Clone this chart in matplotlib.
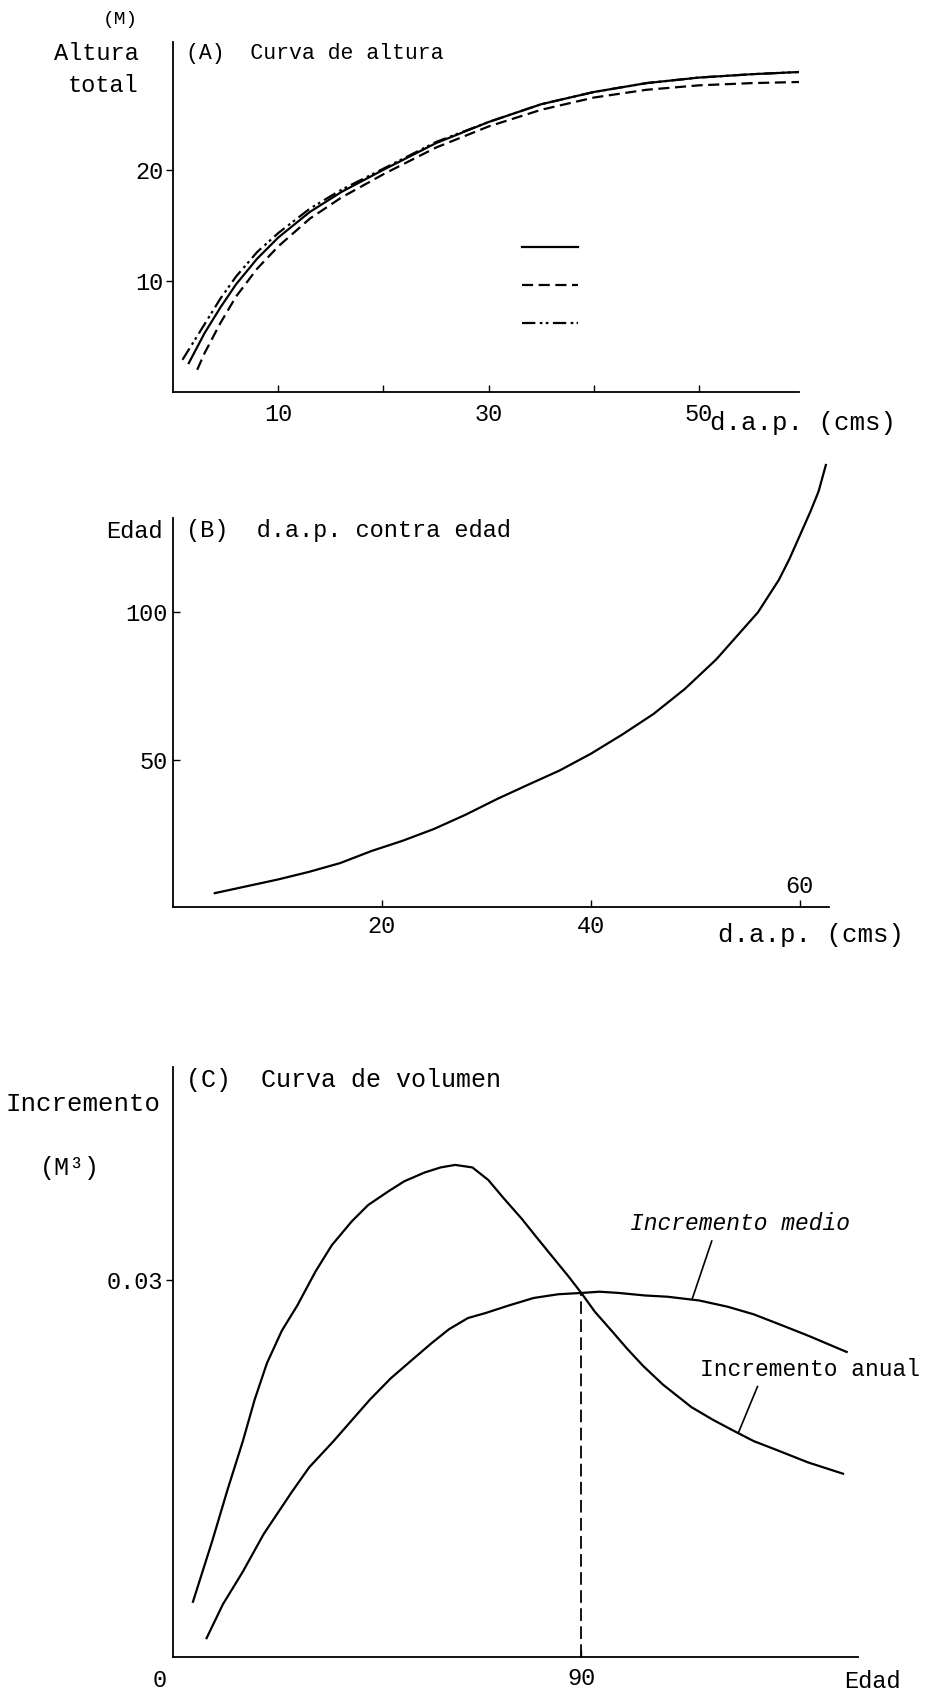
import numpy as np
import matplotlib
matplotlib.use("Agg")
import matplotlib.pyplot as plt
from matplotlib.lines import Line2D

plt.rcParams['font.family'] = ['Liberation Mono', 'DejaVu Sans Mono']
plt.rcParams['font.size'] = 17

# (A) curva de altura: d.a.p. (cms) vs altura total (M)
dap_sol = [1.5, 3, 4.5, 6, 8, 10, 13, 16, 20, 25, 30, 35, 40, 45, 50, 55, 59.5]
alt_sol = [2.6, 5.3, 7.6, 9.7, 12.0, 13.9, 16.2, 18.0, 20.0, 22.4, 24.3, 25.9, 27.0, 27.8, 28.3, 28.6, 28.8]
dap_dd = [0.9, 3, 4.5, 6, 8, 10, 13, 16, 20, 25, 30, 35, 40, 45, 50, 55, 59.5]
alt_dd = [2.9, 6.1, 8.4, 10.4, 12.6, 14.3, 16.5, 18.2, 20.1, 22.5, 24.3, 25.9, 27.0, 27.8, 28.3, 28.6, 28.8]
dap_das = [2.3, 3, 4.5, 6, 8, 10, 13, 16, 20, 25, 30, 35, 40, 45, 50, 55, 59.5]
alt_das = [2.0, 3.5, 6.2, 8.6, 11.1, 13.1, 15.6, 17.5, 19.6, 22.0, 23.9, 25.4, 26.5, 27.2, 27.6, 27.8, 27.9]

# (B) d.a.p. contra edad
dap_b = [4, 7, 10, 13, 16, 19, 22, 25, 28, 31, 34, 37, 40, 43, 46, 49, 52, 54, 56, 58, 59, 60, 61, 61.8, 62.5]
edad_b = [4.7, 7.0, 9.3, 11.9, 14.9, 19.0, 22.5, 26.5, 31.3, 36.6, 41.5, 46.3, 52, 58.5, 65.5, 74, 84,
          92, 100, 111, 118, 126, 134, 141, 150]

# (C) curva de volumen
edad_an = [4.4, 8.7, 12, 15.4, 18, 20.7, 24, 27.4, 31.4, 35, 39.4, 43, 47.5, 51, 55.5, 59, 62.2,
           66, 69.5, 73, 76.9, 80, 83.6, 87, 90, 93, 96.9, 100, 103.6, 108, 114.3, 119, 123.7,
           128, 133, 140, 147.7]
inc_anual = [0.0044, 0.0093, 0.0133, 0.0172, 0.0205, 0.0234, 0.0260, 0.0280, 0.0307, 0.0328,
             0.0347, 0.0360, 0.0371, 0.0379, 0.0386, 0.0390, 0.0392, 0.0390, 0.0380, 0.0365,
             0.0349, 0.0335, 0.0319, 0.0304, 0.0290, 0.0275, 0.0259, 0.0246, 0.0232, 0.0217,
             0.0199, 0.0189, 0.0180, 0.0172, 0.0165, 0.0155, 0.0146]
edad_me = [7.4, 11, 15.4, 20, 26.1, 30, 35.4, 40, 43.4, 48, 52.8, 57, 60.8, 65, 68.9, 74, 79.5,
           85, 90, 94, 98.3, 104, 109, 116, 122.3, 128, 134.4, 140, 148.5]
inc_medio = [0.0015, 0.0042, 0.0068, 0.0098, 0.0131, 0.0151, 0.0172, 0.0191, 0.0205, 0.0222,
             0.0237, 0.0250, 0.0261, 0.0270, 0.0274, 0.0280, 0.0286, 0.0289, 0.0290, 0.0291,
             0.0290, 0.0288, 0.0287, 0.0284, 0.0279, 0.0273, 0.0264, 0.0256, 0.0243]
cruce_edad = 90
cruce_inc = 0.029

W, H = 950, 1692
fig = plt.figure(figsize=(W / 100, H / 100), dpi=100)


def ftxt(x, y, s, ha='left', va='center', **kw):
    fig.text(x / W, 1 - y / H, s, ha=ha, va=va, **kw)


def axes_px(l, t, r, b, ydir='out', xpad=8):
    ax = fig.add_axes([l / W, 1 - b / H, (r - l) / W, (b - t) / H])
    ax.spines['top'].set_visible(False)
    ax.spines['right'].set_visible(False)
    ax.spines['left'].set_linewidth(1.3)
    ax.spines['bottom'].set_linewidth(1.3)
    ax.tick_params(axis='y', direction=ydir, length=5, width=1, pad=2, labelsize=17)
    ax.tick_params(axis='x', direction='in', length=5, width=1, pad=xpad, labelsize=17)
    return ax


lw = 1.6
dashdot = (0, (6, 2, 1.2, 1.5, 1.2, 2))
dashed = (0, (5, 2.5))

# ---- panel A
ax1 = axes_px(173, 42, 799, 392, xpad=8)
ax1.plot(dap_sol, alt_sol, 'k-', lw=lw)
ax1.plot(dap_das, alt_das, color='k', ls=dashed, lw=lw)
ax1.plot(dap_dd, alt_dd, color='k', ls=dashdot, lw=lw)
ax1.set_xlim(0, 59.5)
ax1.set_ylim(0, 31.5)
ax1.set_xticks([10, 20, 30, 40, 50])
ax1.set_xticklabels(['10', '', '30', '', '50'])
ax1.set_yticks([10, 20])
hs = [Line2D([], [], color='k', lw=lw),
      Line2D([], [], color='k', ls=dashed, lw=lw),
      Line2D([], [], color='k', ls=dashdot, lw=lw)]
ax1.legend(hs, ['', '', ''], frameon=False, handlelength=2.9, labelspacing=1.04,
           loc='upper left', bbox_to_anchor=(0.529, 0.484), handletextpad=0,
           prop={'size': 14})

ftxt(103, 19, '(M)', fontsize=14)
ftxt(139, 54, 'Altura', ha='right')
ftxt(138, 86, 'total', ha='right')
ftxt(186, 54, '(A)  Curva de altura', fontsize=15.5)
ftxt(710, 423, 'd.a.p. (cms)', fontsize=18.5)

# ---- panel B
ax2 = axes_px(173, 518, 829, 907, ydir='in', xpad=6)
ax2.plot(dap_b, edad_b, 'k-', lw=lw, clip_on=False)
ax2.set_xlim(0, 62.8)
ax2.set_ylim(0, 132)
ax2.set_xticks([20, 40, 60])
ax2.set_xticklabels(['20', '40', ''])
ax2.set_yticks([50, 100])
ax2.tick_params(axis='y', pad=4)
ax2.text(60, 3, '60', ha='center', va='bottom', fontsize=17)
ftxt(163, 531, 'Edad', ha='right')
ftxt(186, 531, '(B)  d.a.p. contra edad', fontsize=17)
ftxt(718, 935, 'd.a.p. (cms)', fontsize=18.5)

# ---- panel C
ax3 = axes_px(173, 1067, 858, 1657, xpad=7)
ax3.plot(edad_an, inc_anual, 'k-', lw=lw)
ax3.plot(edad_me, inc_medio, 'k-', lw=lw)
ax3.vlines(cruce_edad, 0, cruce_inc, colors='k', linestyles=(0, (7, 3)), lw=1.3)
ax3.set_xlim(0, 151)
ax3.set_ylim(0, 0.047)
ax3.set_xticks([cruce_edad])
ax3.set_xticklabels(['90'])
ax3.set_yticks([0.03])
ax3.set_yticklabels(['0.03'])

x_me = 114.4
ax3.annotate('Incremento medio', xy=(x_me, np.interp(x_me, edad_me, inc_medio)),
             xytext=(125.0, 0.0345), ha='center', va='center', fontsize=16.5, style='italic',
             annotation_clip=False,
             arrowprops=dict(arrowstyle='-', lw=1.2, color='k', relpos=(0.38, 0.0),
                             shrinkA=2, shrinkB=0))
x_an = 124.6
ax3.annotate('Incremento anual', xy=(x_an, np.interp(x_an, edad_an, inc_anual)),
             xytext=(140.5, 0.0229), ha='center', va='center', fontsize=16.5,
             annotation_clip=False,
             arrowprops=dict(arrowstyle='-', lw=1.2, color='k', relpos=(0.27, 0.0),
                             shrinkA=2, shrinkB=0))

ftxt(186, 1080, '(C)  Curva de volumen', fontsize=18)
ftxt(6, 1104, 'Incremento', fontsize=18.5)
ftxt(40, 1168, '(M³)', fontsize=18)
ftxt(160, 1680, '0', ha='center')
ftxt(844, 1681, 'Edad')

fig.savefig('out.png', dpi=100, facecolor='white')
